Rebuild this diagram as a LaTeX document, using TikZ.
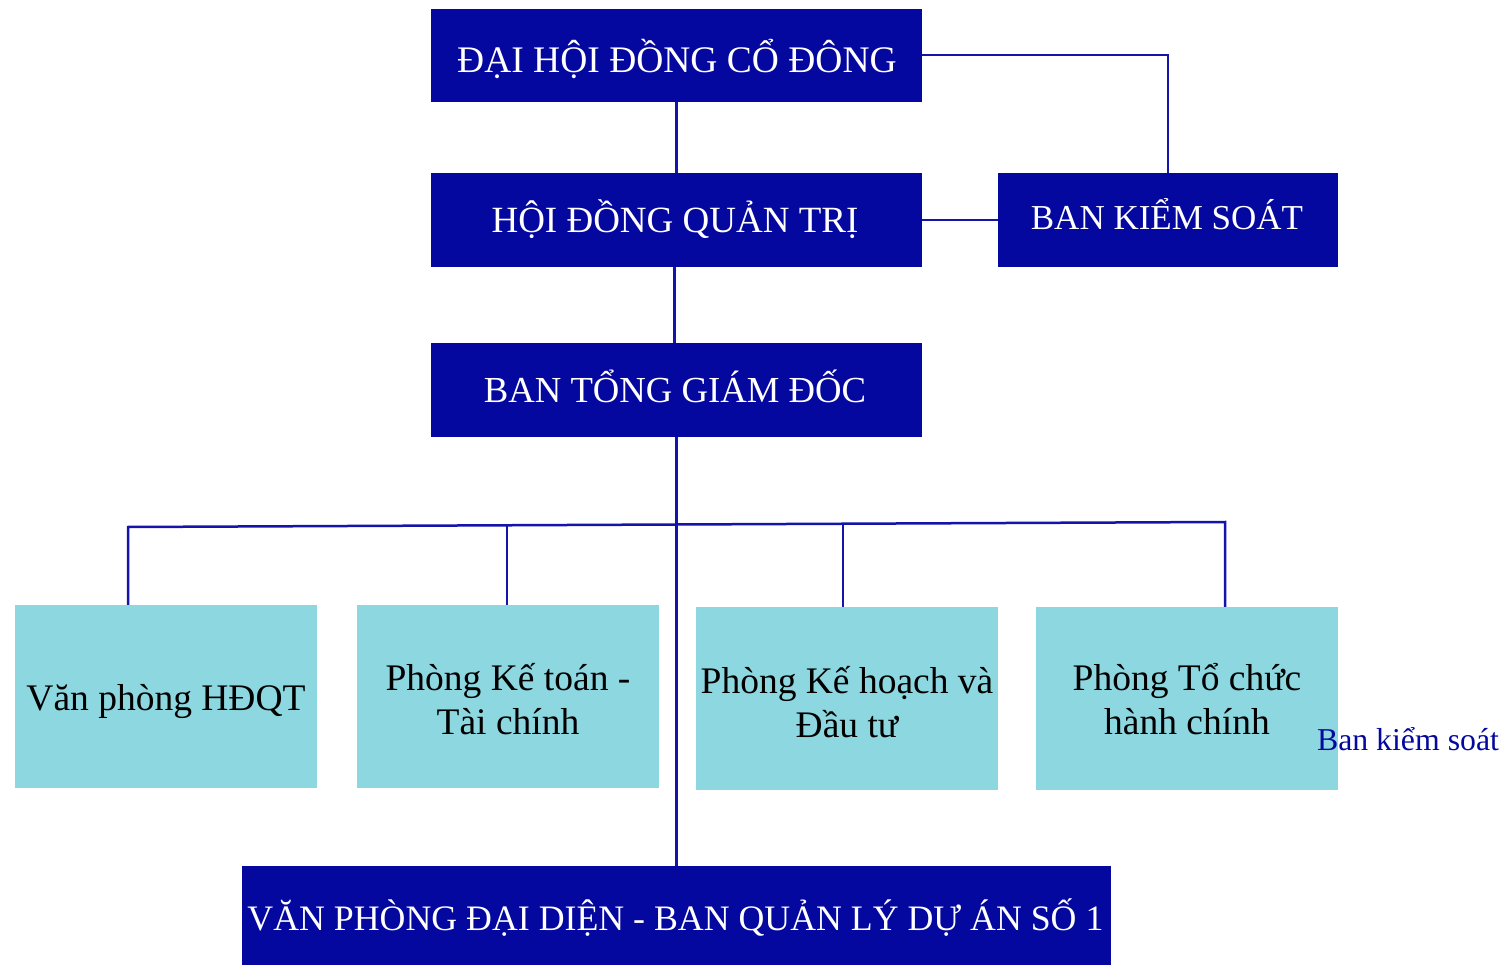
\documentclass[tikz,border=0pt]{standalone}
\usepackage{fontspec}
\setmainfont{Liberation Serif}
\begin{document}
\begin{tikzpicture}[x=1pt,y=-1pt,
  darkbox/.style={fill=boxblue,draw=none,inner sep=0pt},
  lightbox/.style={fill=boxcyan,draw=none,inner sep=0pt},
  darktext/.style={inner sep=0pt,text=white,align=center,font=\fontsize{#1}{40}\selectfont},
  lighttext/.style={inner sep=0pt,text=black,align=center,font=\fontsize{37.5}{44}\selectfont},
  conn/.style={draw=lineblue,line width=2.5pt}]
\definecolor{boxblue}{RGB}{4,8,158}
\definecolor{boxcyan}{RGB}{140,215,224}
\definecolor{lineblue}{RGB}{20,20,170}
\useasboundingbox (0,0) rectangle (1502,965);
% dark boxes
\node[darkbox,minimum width=491pt,minimum height=93pt] (dhdcd) at (676.5,55.5) {};
\node[darkbox,minimum width=491pt,minimum height=94pt] (hdqt) at (676.5,220) {};
\node[darkbox,minimum width=340pt,minimum height=94pt] (bks) at (1168,220) {};
\node[darkbox,minimum width=491pt,minimum height=94pt] (btgd) at (676.5,390) {};
\node[darkbox,minimum width=869pt,minimum height=99pt] (vpdd) at (676.5,915.5) {};
\node[darktext=37.5] (t1) at (677,59) {ĐẠI HỘI ĐỒNG CỔ ĐÔNG};
\node[darktext=37] (t2) at (675,219) {HỘI ĐỒNG QUẢN TRỊ};
\node[darktext=35] (t3) at (1167,214) {BAN KIỂM SOÁT};
\node[darktext=36.7] (t4) at (675,386) {BAN TỔNG GIÁM ĐỐC};
\node[darktext=35.8] (t5) at (675.5,918) {VĂN PHÒNG ĐẠI DIỆN - BAN QUẢN LÝ DỰ ÁN SỐ 1};
% light boxes
\node[lightbox,minimum width=302pt,minimum height=183pt] (vp) at (166,696.5) {};
\node[lightbox,minimum width=302pt,minimum height=183pt] (pkt) at (508,696.5) {};
\node[lightbox,minimum width=302pt,minimum height=183pt] (pkh) at (847,698.5) {};
\node[lightbox,minimum width=302pt,minimum height=183pt] (ptc) at (1187,698.5) {};
\node[lighttext] (t6) at (166,702) {Văn phòng HĐQT};
\node[lighttext] (t7) at (508,699) {Phòng Kế toán -\\Tài chính};
\node[lighttext] (t8) at (847,702) {Phòng Kế hoạch và\\Đầu tư};
\node[lighttext] (t9) at (1187,699) {Phòng Tổ chức\\hành chính};
\node[text=boxblue,inner sep=0pt,font=\fontsize{31.8}{34}\selectfont] (lbl) at (1408,739) {Ban kiểm soát};
% connectors
\coordinate (c1) at (1168,55);
\draw[conn] (dhdcd.east |- c1) -- (c1) -- (bks.north);
\draw[conn] (dhdcd.south) -- (hdqt.north);
\draw[conn] (hdqt.east) -- (bks.west);
\draw[conn] ([xshift=-2pt]hdqt.south) -- ([xshift=-2pt]btgd.north);
\draw[conn] (btgd.south) -- (vpdd.north);
\coordinate (bl) at (128,527);
\coordinate (br) at (1225,522);
\draw[conn] (vp.north -| bl) -- (bl) -- (br) -- (ptc.north -| br);
\coordinate (b2) at (507,525.3);
\coordinate (b3) at (843,523.7);
\draw[conn] (b2) -- (pkt.north -| b2);
\draw[conn] (b3) -- (pkh.north -| b3);
\end{tikzpicture}
\end{document}
